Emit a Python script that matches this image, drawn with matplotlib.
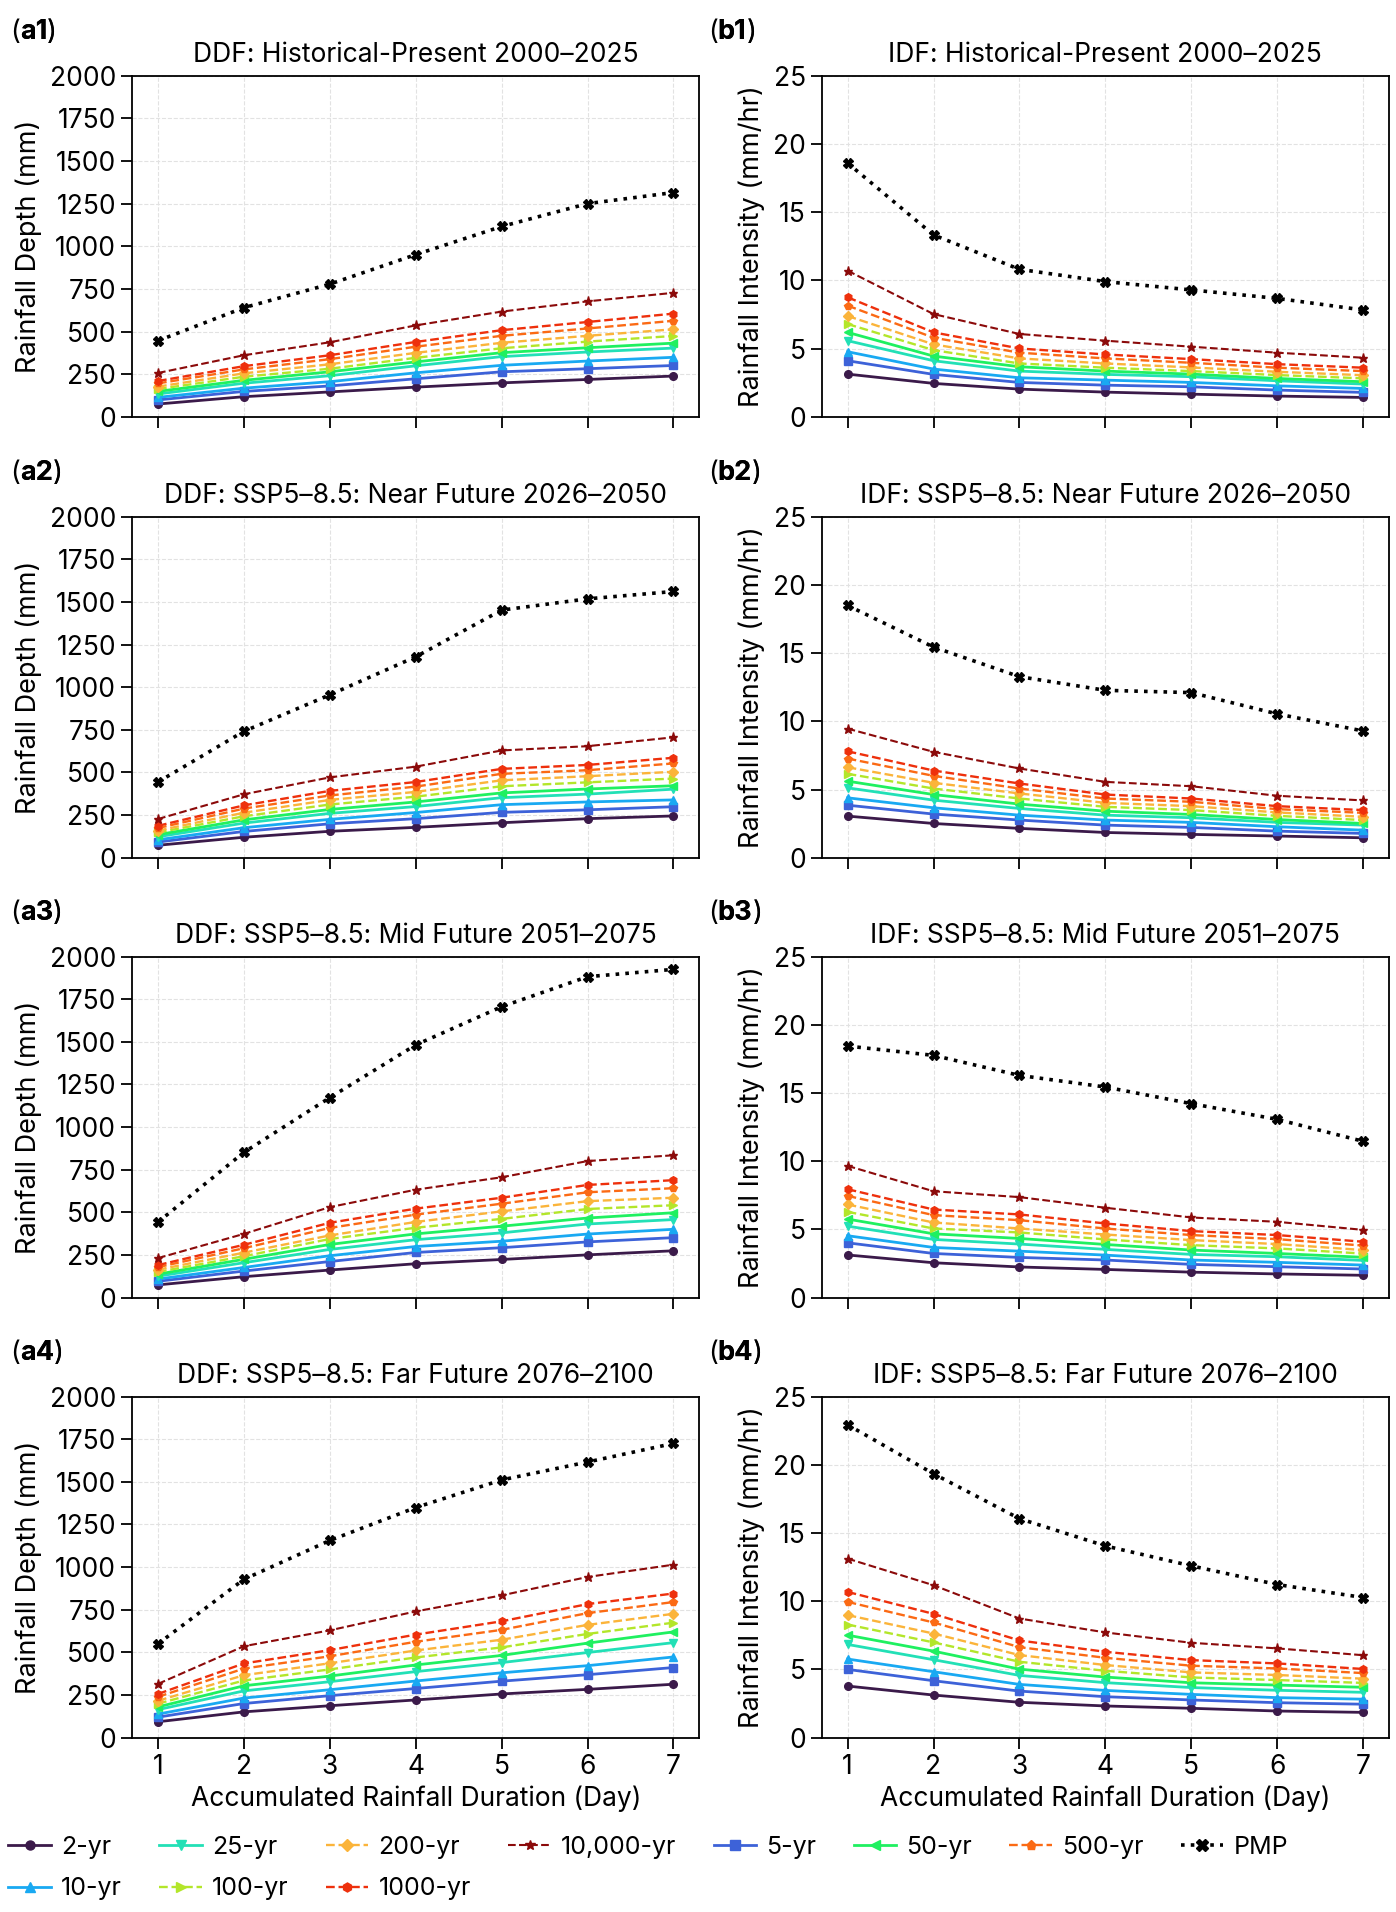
import matplotlib
matplotlib.use('Agg')
import matplotlib.pyplot as plt
from matplotlib.lines import Line2D

days = [1, 2, 3, 4, 5, 6, 7]
series_labels = ['2-yr', '5-yr', '10-yr', '25-yr', '50-yr', '100-yr', '200-yr',
                 '500-yr', '1000-yr', '10,000-yr', 'PMP']

# Rows follow series_labels order
ddf_hist = [
    [75, 118, 146, 174, 199, 219, 239],
    [99, 149, 181, 223, 264, 282, 301],
    [114, 168, 206, 258, 302, 327, 349],
    [134, 197, 241, 299, 353, 380, 403],
    [149, 214, 264, 322, 376, 405, 432],
    [163, 235, 282, 346, 402, 441, 474],
    [177, 255, 308, 375, 434, 475, 513],
    [196, 278, 338, 411, 475, 518, 563],
    [210, 297, 361, 439, 508, 556, 605],
    [257, 361, 437, 536, 617, 677, 727],
    [446, 640, 778, 951, 1116, 1250, 1315],
]
idf_hist = [
    [3.13, 2.45, 2.03, 1.81, 1.66, 1.52, 1.42],
    [4.11, 3.11, 2.52, 2.32, 2.20, 1.96, 1.79],
    [4.77, 3.50, 2.86, 2.69, 2.52, 2.27, 2.08],
    [5.58, 4.11, 3.35, 3.11, 2.94, 2.64, 2.40],
    [6.19, 4.45, 3.67, 3.35, 3.13, 2.81, 2.57],
    [6.80, 4.89, 3.91, 3.60, 3.35, 3.06, 2.82],
    [7.39, 5.31, 4.28, 3.91, 3.62, 3.30, 3.05],
    [8.15, 5.80, 4.70, 4.28, 3.96, 3.60, 3.35],
    [8.76, 6.19, 5.01, 4.57, 4.23, 3.86, 3.60],
    [10.71, 7.53, 6.07, 5.58, 5.14, 4.70, 4.33],
    [18.60, 13.33, 10.81, 9.91, 9.30, 8.68, 7.83],
]
ddf_near = [
    [73, 120, 155, 178, 205, 229, 245],
    [92, 154, 199, 229, 266, 281, 299],
    [105, 176, 225, 265, 311, 327, 339],
    [123, 203, 260, 300, 352, 373, 402],
    [135, 222, 283, 327, 380, 403, 422],
    [148, 243, 312, 358, 419, 442, 464],
    [159, 264, 339, 386, 454, 478, 504],
    [174, 288, 365, 417, 492, 513, 553],
    [187, 307, 392, 444, 521, 544, 586],
    [227, 372, 471, 534, 629, 654, 706],
    [444, 741, 955, 1178, 1452, 1518, 1561],
]
idf_near = [
    [3.05, 2.51, 2.15, 1.85, 1.71, 1.59, 1.46],
    [3.85, 3.20, 2.76, 2.39, 2.22, 1.95, 1.78],
    [4.39, 3.66, 3.12, 2.76, 2.59, 2.27, 2.02],
    [5.12, 4.22, 3.61, 3.12, 2.93, 2.59, 2.39],
    [5.61, 4.63, 3.93, 3.41, 3.17, 2.80, 2.51],
    [6.15, 5.07, 4.34, 3.73, 3.49, 3.07, 2.76],
    [6.63, 5.49, 4.71, 4.02, 3.78, 3.32, 3.00],
    [7.27, 6.00, 5.07, 4.34, 4.10, 3.56, 3.29],
    [7.80, 6.39, 5.44, 4.63, 4.34, 3.78, 3.49],
    [9.46, 7.76, 6.54, 5.56, 5.24, 4.54, 4.20],
    [18.49, 15.44, 13.27, 12.27, 12.10, 10.54, 9.29],
]
ddf_mid = [
    [75, 123, 162, 199, 224, 251, 275],
    [96, 156, 212, 265, 293, 327, 352],
    [109, 177, 246, 300, 331, 373, 401],
    [126, 205, 283, 340, 380, 432, 458],
    [138, 225, 312, 374, 419, 467, 498],
    [151, 243, 344, 410, 462, 520, 542],
    [164, 264, 365, 444, 506, 566, 586],
    [179, 290, 409, 487, 551, 618, 642],
    [191, 310, 439, 522, 586, 661, 689],
    [232, 374, 531, 633, 706, 801, 835],
    [443, 852, 1173, 1482, 1706, 1882, 1925],
]
idf_mid = [
    [3.13, 2.56, 2.25, 2.07, 1.87, 1.74, 1.64],
    [4.02, 3.24, 2.95, 2.76, 2.44, 2.27, 2.10],
    [4.54, 3.68, 3.41, 3.12, 2.76, 2.59, 2.39],
    [5.24, 4.27, 3.93, 3.54, 3.17, 3.00, 2.73],
    [5.76, 4.68, 4.34, 3.90, 3.49, 3.24, 2.96],
    [6.29, 5.07, 4.78, 4.27, 3.85, 3.61, 3.23],
    [6.83, 5.51, 5.07, 4.63, 4.22, 3.93, 3.49],
    [7.46, 6.05, 5.68, 5.07, 4.59, 4.29, 3.82],
    [7.95, 6.46, 6.10, 5.44, 4.88, 4.59, 4.10],
    [9.66, 7.80, 7.37, 6.59, 5.88, 5.56, 4.97],
    [18.44, 17.76, 16.29, 15.44, 14.22, 13.07, 11.46],
]
ddf_far = [
    [93, 151, 187, 221, 256, 283, 313],
    [120, 200, 246, 288, 331, 369, 411],
    [138, 232, 281, 332, 380, 422, 473],
    [164, 274, 328, 387, 440, 499, 557],
    [180, 304, 361, 426, 482, 554, 620],
    [199, 335, 400, 470, 529, 608, 674],
    [216, 366, 436, 511, 574, 661, 726],
    [239, 405, 477, 562, 632, 730, 795],
    [256, 435, 513, 604, 682, 783, 845],
    [315, 536, 629, 740, 834, 942, 1014],
    [550, 928, 1156, 1349, 1511, 1616, 1725],
]
idf_far = [
    [3.78, 3.12, 2.59, 2.32, 2.15, 1.95, 1.85],
    [5.00, 4.17, 3.41, 3.00, 2.76, 2.56, 2.45],
    [5.76, 4.83, 3.90, 3.46, 3.17, 2.93, 2.82],
    [6.83, 5.71, 4.56, 4.03, 3.67, 3.47, 3.32],
    [7.51, 6.34, 5.02, 4.44, 4.02, 3.85, 3.69],
    [8.29, 6.98, 5.56, 4.90, 4.41, 4.22, 4.01],
    [8.98, 7.63, 6.05, 5.32, 4.78, 4.59, 4.32],
    [9.95, 8.44, 6.63, 5.85, 5.27, 5.07, 4.73],
    [10.68, 9.07, 7.12, 6.29, 5.68, 5.44, 5.03],
    [13.12, 11.17, 8.73, 7.71, 6.95, 6.54, 6.04],
    [22.93, 19.34, 16.05, 14.05, 12.59, 11.22, 10.27],
]

ddf_titles = ['DDF: Historical-Present 2000\u20132025',
              'DDF: SSP5\u20138.5: Near Future 2026\u20132050',
              'DDF: SSP5\u20138.5: Mid Future 2051\u20132075',
              'DDF: SSP5\u20138.5: Far Future 2076\u20132100']
idf_titles = ['IDF: Historical-Present 2000\u20132025',
              'IDF: SSP5\u20138.5: Near Future 2026\u20132050',
              'IDF: SSP5\u20138.5: Mid Future 2051\u20132075',
              'IDF: SSP5\u20138.5: Far Future 2076\u20132100']
ddf_yticks = [0, 250, 500, 750, 1000, 1250, 1500, 1750, 2000]
idf_yticks = [0, 5, 10, 15, 20, 25]

colors = ['#3b1a4a', '#3d62d8', '#19a9f2', '#22e0b6', '#1ff060', '#b3e62a',
          '#fbb43a', '#fb6a14', '#ee300c', '#8b0a0a', '#000000']
markers = ['o', 's', '^', 'v', '<', '>', 'D', 'p', 'h', '*', 'X']
lstyles = ['-', '-', '-', '-', '-', '--', '--', '--', '--', '--', (0, (1, 1.7))]
lwidths = [2.0, 2.0, 2.0, 2.0, 2.0, 1.7, 1.7, 1.7, 1.7, 1.5, 2.6]
msizes = [5.5, 5.5, 5.5, 5.5, 5.5, 5.5, 5.5, 5.5, 5.5, 6.5, 7]

plt.rcParams['font.family'] = ['Inter', 'DejaVu Sans']
plt.rcParams['font.size'] = 18

W, H = 1396, 1912
fig = plt.figure(figsize=(W / 100, H / 100), dpi=100)

lefts = [0.0947, 0.5887]
width = 0.4062
bottoms = [0.7820, 0.5514, 0.3213, 0.0912]
height = 0.1784

ddf_sets = [ddf_hist, ddf_near, ddf_mid, ddf_far]
idf_sets = [idf_hist, idf_near, idf_mid, idf_far]


def panel_label(x, y, tag):
    t1 = fig.text(x, y, '(', va='baseline', ha='left', fontsize=19.5)
    a2 = plt.annotate(tag, xy=(1, 0), xycoords=t1, va='bottom', ha='left',
                      fontsize=19.5, fontweight='bold', annotation_clip=False)
    fig.add_artist(a2)
    a3 = plt.annotate(')', xy=(1, 0), xycoords=a2, va='bottom', ha='left',
                      fontsize=19.5, annotation_clip=False)
    fig.add_artist(a3)


for r in range(4):
    for c in range(2):
        ax = fig.add_axes([lefts[c], bottoms[r], width, height])
        data = ddf_sets[r] if c == 0 else idf_sets[r]
        for i in range(len(series_labels)):
            ax.plot(days, data[i], color=colors[i], marker=markers[i],
                    linestyle=lstyles[i], linewidth=lwidths[i],
                    markersize=msizes[i], label=series_labels[i])
        if c == 0:
            ax.set_ylim(0, 2000)
            ax.set_yticks(ddf_yticks)
            ax.set_ylabel('Rainfall Depth (mm)', labelpad=6, fontsize=19.5)
            ax.set_title(ddf_titles[r], pad=10, fontsize=19)
            tag = 'a%d' % (r + 1)
            lx = 0.007
        else:
            ax.set_ylim(0, 25)
            ax.set_yticks(idf_yticks)
            ax.set_ylabel('Rainfall Intensity (mm/hr)', labelpad=6, fontsize=19.5)
            ax.set_title(idf_titles[r], pad=10, fontsize=19)
            tag = 'b%d' % (r + 1)
            lx = 0.507
        ax.set_xticks(days)
        ax.grid(True, linestyle='--', color='#e2e2e2', linewidth=0.8)
        ax.set_axisbelow(True)
        for sp in ax.spines.values():
            sp.set_linewidth(1.3)
        ax.tick_params(direction='out', length=8, width=1.3, labelsize=19)
        if r < 3:
            ax.tick_params(labelbottom=False)
        else:
            ax.set_xlabel('Accumulated Rainfall Duration (Day)', labelpad=4,
                          fontsize=19)
        panel_label(lx, bottoms[r] + height + 37 / H, tag)

order = [0, 2, 3, 5, 6, 8, 9, 1, 4, 7, 10]
handles = [Line2D([0], [0], color=colors[i], marker=markers[i],
                  linestyle=lstyles[i], linewidth=lwidths[i],
                  markersize=msizes[i] + 1) for i in order]
leg_labels = [series_labels[i] for i in order]
fig.legend(handles, leg_labels, loc='upper left', bbox_to_anchor=(0.006, 0.040),
           ncol=8, frameon=False, handlelength=1.7, handletextpad=0.4,
           columnspacing=1.5, labelspacing=0.75, borderpad=0, borderaxespad=0,
           fontsize=18)

fig.savefig('out.png', dpi=100)
